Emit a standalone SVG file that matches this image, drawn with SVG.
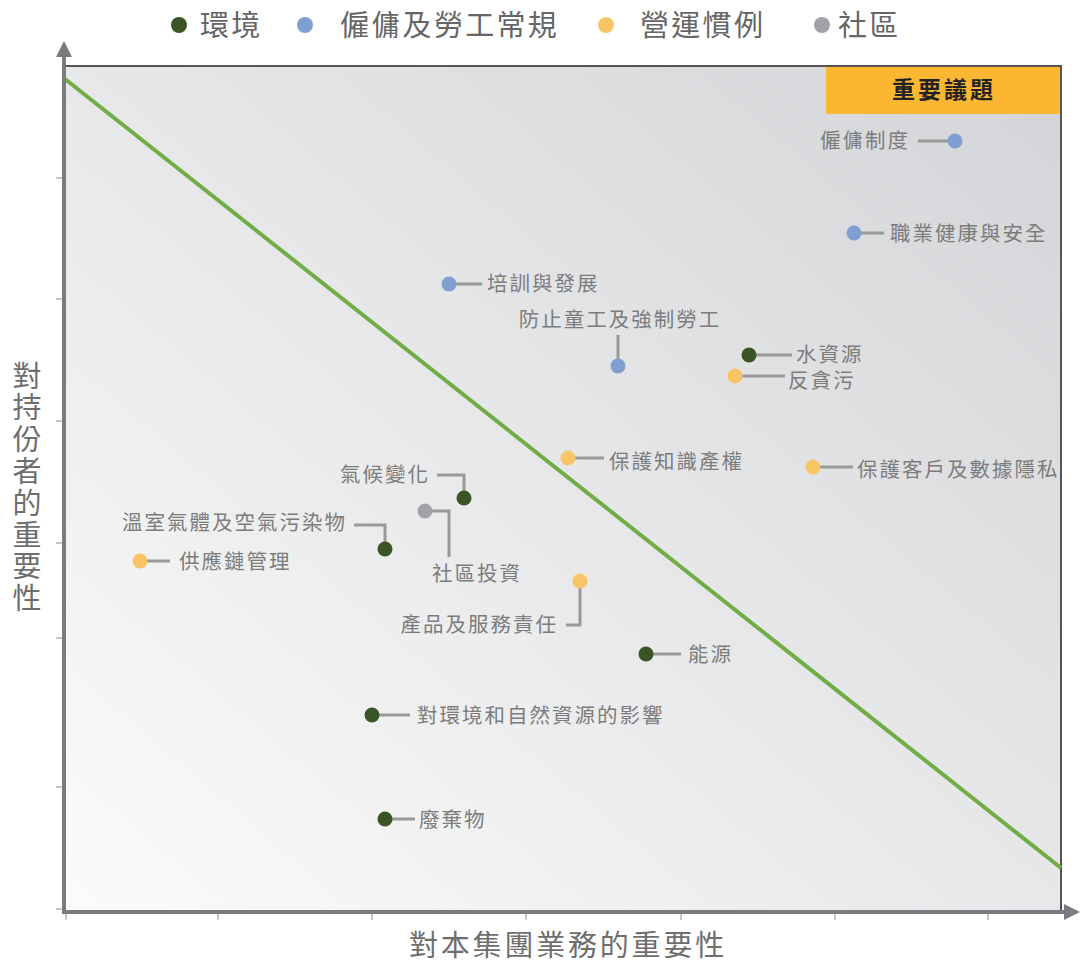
<svg xmlns="http://www.w3.org/2000/svg" width="1080" height="962" viewBox="0 0 1080 962">
<defs>
<linearGradient id="bg" x1="0" y1="1" x2="1" y2="0">
<stop offset="0" stop-color="#fbfbfb"/>
<stop offset="1" stop-color="#d3d4d7"/>
</linearGradient>
<style>
text{font-family:"Noto Sans CJK TC","Noto Sans CJK SC",sans-serif;}
.lbl{font-size:20.5px;fill:#7c7c7c;letter-spacing:2px;}
.leg{font-size:29px;fill:#666;letter-spacing:2.3px;}
.ax{font-size:29px;fill:#6e6e6e;letter-spacing:2.8px;}
.ln{stroke:#999;stroke-width:3;fill:none;}
.env{fill:#3a5426;}
.emp{fill:#7f9fd2;}
.ops{fill:#f7c565;}
.com{fill:#a0a1a9;}
.tick{stroke:#b5b5b5;stroke-width:1.5;}
</style>
</defs>
<rect width="1080" height="962" fill="#fff"/>

<g id="legend">
<circle cx="179" cy="25" r="8" class="env"/>
<text x="200" y="36" class="leg">環境</text>
<circle cx="305" cy="25" r="8" class="emp"/>
<text x="340" y="36" class="leg">僱傭及勞工常規</text>
<circle cx="606" cy="25" r="8" class="ops"/>
<text x="640" y="36" class="leg">營運慣例</text>
<circle cx="822" cy="25" r="8" class="com"/>
<text x="838" y="36" class="leg">社區</text>
</g>

<g id="plot">
<rect x="65" y="65" width="996" height="847" fill="url(#bg)"/>
<line x1="64" y1="66" x2="1061" y2="66" stroke="#555" stroke-width="2"/>
<line x1="1061" y1="65" x2="1061" y2="912" stroke="#555" stroke-width="2"/>
<rect x="826" y="67" width="234" height="47" fill="#fbb732"/>
<text x="944" y="98" text-anchor="middle" font-size="23" font-weight="bold" fill="#222" letter-spacing="3">重要議題</text>
<line x1="65" y1="79" x2="1061" y2="868" stroke="#70ad47" stroke-width="4"/>
</g>

<g id="axes">
<g class="tick">
<line x1="56" y1="178" x2="63" y2="178"/>
<line x1="56" y1="299" x2="63" y2="299"/>
<line x1="56" y1="421" x2="63" y2="421"/>
<line x1="56" y1="543" x2="63" y2="543"/>
<line x1="56" y1="638" x2="63" y2="638"/>
<line x1="56" y1="787" x2="63" y2="787"/>
<line x1="56" y1="909" x2="63" y2="909"/>
<line x1="66" y1="914" x2="66" y2="920"/>
<line x1="218" y1="914" x2="218" y2="920"/>
<line x1="372" y1="914" x2="372" y2="920"/>
<line x1="526" y1="914" x2="526" y2="920"/>
<line x1="681" y1="914" x2="681" y2="920"/>
<line x1="835" y1="914" x2="835" y2="920"/>
<line x1="988" y1="914" x2="988" y2="920"/>
</g>
<line x1="64" y1="914" x2="64" y2="55" stroke="#7a7a80" stroke-width="4"/>
<polygon points="64,41 56,57 72,57" fill="#7a7a80"/>
<line x1="62" y1="912" x2="1066" y2="912" stroke="#7a7a80" stroke-width="4"/>
<polygon points="1080,912 1064,904 1064,920" fill="#7a7a80"/>
<text x="568" y="956" text-anchor="middle" class="ax">對本集團業務的重要性</text>
<text x="27" y="361" class="ax" letter-spacing="2" style="writing-mode:vertical-rl;text-orientation:upright">對持份者的重要性</text>
</g>

<g id="connectors">
<line class="ln" x1="918" y1="141" x2="950" y2="141"/>
<line class="ln" x1="858" y1="233" x2="884" y2="233"/>
<line class="ln" x1="453" y1="284" x2="482" y2="284"/>
<line class="ln" x1="618" y1="335" x2="618" y2="362"/>
<line class="ln" x1="753" y1="355" x2="792" y2="355"/>
<line class="ln" x1="739" y1="376" x2="785" y2="376"/>
<line class="ln" x1="572" y1="458" x2="604" y2="458"/>
<line class="ln" x1="817" y1="467" x2="853" y2="467"/>
<polyline class="ln" points="437,475 464,475 464,494"/>
<polyline class="ln" points="429,511 449,511 449,557"/>
<polyline class="ln" points="354,525 385,525 385,545"/>
<line class="ln" x1="144" y1="561" x2="170" y2="561"/>
<polyline class="ln" points="580,585 580,625 566,625"/>
<line class="ln" x1="650" y1="654" x2="681" y2="654"/>
<line class="ln" x1="376" y1="715" x2="410" y2="715"/>
<line class="ln" x1="389" y1="819" x2="415" y2="819"/>
</g>

<g id="n-employment-system"><circle cx="955" cy="141" r="7.5" class="emp"/><text x="910" y="148" text-anchor="end" class="lbl">僱傭制度</text></g>
<g id="n-ohs"><circle cx="854" cy="233" r="7.5" class="emp"/><text x="890" y="241" class="lbl">職業健康與安全</text></g>
<g id="n-training"><circle cx="449" cy="284" r="7.5" class="emp"/><text x="487" y="291" class="lbl">培訓與發展</text></g>
<g id="n-child-labour"><circle cx="618" cy="366" r="7.5" class="emp"/><text x="620" y="327" text-anchor="middle" class="lbl">防止童工及強制勞工</text></g>
<g id="n-water"><circle cx="749" cy="355" r="7.5" class="env"/><text x="796" y="362" class="lbl">水資源</text></g>
<g id="n-anticorruption"><circle cx="735" cy="376" r="7.5" class="ops"/><text x="788" y="388" class="lbl">反貪污</text></g>
<g id="n-ip"><circle cx="568" cy="458" r="7.5" class="ops"/><text x="609" y="469" class="lbl">保護知識產權</text></g>
<g id="n-privacy"><circle cx="813" cy="467" r="7.5" class="ops"/><text x="857" y="477" class="lbl">保護客戶及數據隱私</text></g>
<g id="n-climate"><circle cx="464" cy="498" r="7.5" class="env"/><text x="430" y="482" text-anchor="end" class="lbl">氣候變化</text></g>
<g id="n-community"><circle cx="425" cy="511" r="7.5" class="com"/><text x="477" y="581" text-anchor="middle" class="lbl">社區投資</text></g>
<g id="n-ghg"><circle cx="385" cy="549" r="7.5" class="env"/><text x="347" y="530" text-anchor="end" class="lbl">溫室氣體及空氣污染物</text></g>
<g id="n-supply"><circle cx="140" cy="561" r="7.5" class="ops"/><text x="179" y="569" class="lbl">供應鏈管理</text></g>
<g id="n-product"><circle cx="580" cy="581" r="7.5" class="ops"/><text x="558" y="632" text-anchor="end" class="lbl">產品及服務責任</text></g>
<g id="n-energy"><circle cx="646" cy="654" r="7.5" class="env"/><text x="688" y="662" class="lbl">能源</text></g>
<g id="n-impact"><circle cx="372" cy="715" r="7.5" class="env"/><text x="417" y="723" class="lbl">對環境和自然資源的影響</text></g>
<g id="n-waste"><circle cx="385" cy="819" r="7.5" class="env"/><text x="419" y="827" class="lbl">廢棄物</text></g>
</svg>
